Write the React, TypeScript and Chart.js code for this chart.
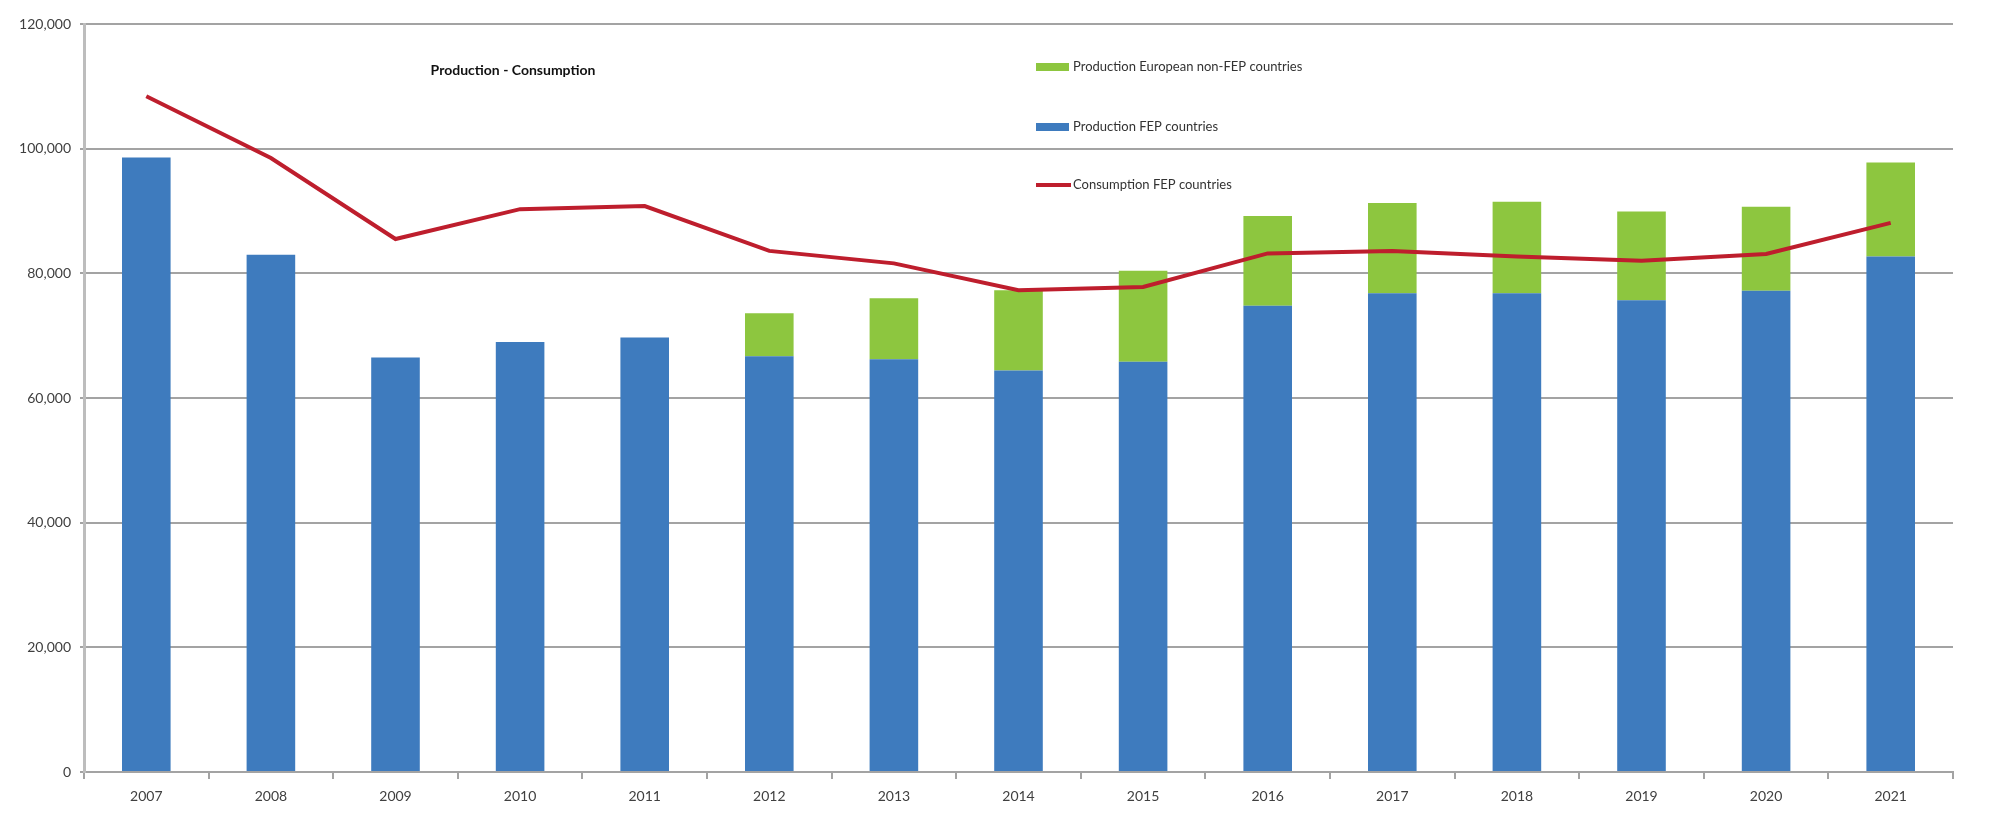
import React, { useEffect, useRef } from "react";
import { Chart, registerables } from "chart.js";

Chart.register(...registerables);

const years = ["2007", "2008", "2009", "2010", "2011", "2012", "2013", "2014", "2015", "2016", "2017", "2018", "2019", "2020", "2021"];
const productionFEP = [98600, 83000, 66500, 69000, 69700, 66700, 66200, 64400, 65800, 74800, 76800, 76800, 75700, 77200, 82700];
const productionNonFEP = [null, null, null, null, null, 6900, 9800, 12900, 14600, 14400, 14500, 14700, 14200, 13500, 15100];
const consumptionFEP = [108400, 98500, 85500, 90300, 90800, 83600, 81600, 77300, 77800, 83200, 83600, 82700, 82000, 83100, 88100];

const labelNonFEP = "Production European non-FEP countries";
const labelFEP = "Production FEP countries";
const labelConsumption = "Consumption FEP countries";
const chartTitle = "Production - Consumption";

const BLUE = "#3E7BBE";
const GREEN = "#8DC63F";
const RED = "#BE1E2D";
const GRID = "#A3A3A3";
const FONT = "Lato, 'DejaVu Sans', sans-serif";

const overlayPlugin = {
  id: "overlay",
  afterDraw(chart: any) {
    const ctx = chart.ctx;
    ctx.save();
    ctx.font = `bold 14px ${FONT}`;
    ctx.fillStyle = "#111";
    ctx.textAlign = "center";
    ctx.textBaseline = "middle";
    ctx.fillText(chartTitle, 513, 70);

    const items = [
      { ds: chart.data.datasets[1], y: 67, type: "box" },
      { ds: chart.data.datasets[0], y: 127, type: "box" },
      { ds: chart.data.datasets[2], y: 185, type: "line" },
    ];
    ctx.font = `13px ${FONT}`;
    ctx.textAlign = "left";
    for (const it of items) {
      if (it.type === "box") {
        ctx.fillStyle = it.ds.backgroundColor;
        ctx.fillRect(1036, it.y - 4, 33, 8);
      } else {
        ctx.strokeStyle = it.ds.borderColor;
        ctx.lineWidth = 4;
        ctx.beginPath();
        ctx.moveTo(1036, it.y);
        ctx.lineTo(1071, it.y);
        ctx.stroke();
      }
      ctx.fillStyle = "#333";
      ctx.fillText(it.ds.label, 1073, it.y);
    }
    ctx.restore();
  },
};

export default function App() {
  const ref = useRef<HTMLCanvasElement>(null);
  useEffect(() => {
    if (!ref.current) return;
    const chart = new Chart(ref.current, {
      type: "bar",
      data: {
        labels: years,
        datasets: [
          {
            type: "bar",
            label: labelFEP,
            data: productionFEP,
            backgroundColor: BLUE,
            stack: "prod",
            order: 1,
            barPercentage: 0.39,
            categoryPercentage: 1,
          },
          {
            type: "bar",
            label: labelNonFEP,
            data: productionNonFEP as any,
            backgroundColor: GREEN,
            stack: "prod",
            order: 1,
            barPercentage: 0.39,
            categoryPercentage: 1,
          },
          {
            type: "line",
            label: labelConsumption,
            data: consumptionFEP,
            borderColor: RED,
            backgroundColor: RED,
            borderWidth: 4,
            pointRadius: 0,
            tension: 0,
            stack: "cons",
            order: 0,
          } as any,
        ],
      },
      options: {
        responsive: false,
        animation: false,
        layout: { padding: { top: 24, right: 47, left: 0, bottom: 0 } },
        plugins: {
          legend: { display: false },
          title: { display: false },
          tooltip: { enabled: false },
        },
        scales: {
          x: {
            stacked: true,
            offset: true,
            afterFit: (s: any) => {
              s.height = 60;
            },
            grid: {
              offset: true,
              drawOnChartArea: false,
              drawTicks: true,
              tickLength: 7,
              color: GRID,
              lineWidth: 2,
            },
            border: { display: true, color: GRID, width: 2 },
            ticks: {
              color: "#404040",
              font: { family: FONT, size: 14 },
              padding: 9,
              maxRotation: 0,
            },
          },
          y: {
            stacked: true,
            min: 0,
            max: 120000,
            afterFit: (s: any) => {
              s.width = 84;
            },
            ticks: {
              stepSize: 20000,
              color: "#404040",
              font: { family: FONT, size: 14 },
              padding: 9,
              callback: (v: any) => Number(v).toLocaleString("en-US"),
            },
            grid: {
              color: GRID,
              lineWidth: 2,
              drawTicks: true,
              tickLength: 4,
            },
            border: { display: true, color: "#BDBDBD", width: 3 },
          },
        },
      },
      plugins: [overlayPlugin],
    });
    return () => chart.destroy();
  }, []);
  return (
    <div style={{ position: "absolute", left: 0, top: 0, width: 2000, height: 832, background: "#fff" }}>
      <canvas ref={ref} width={2000} height={832} style={{ display: "block" }} />
    </div>
  );
}
